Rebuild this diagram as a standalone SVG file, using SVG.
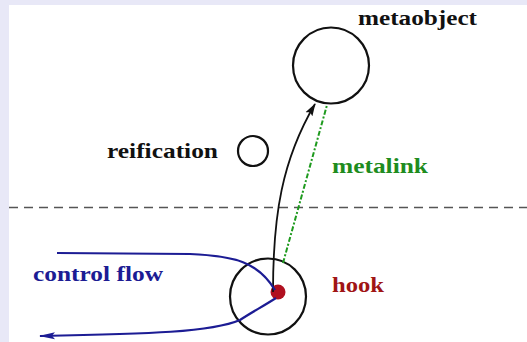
<svg xmlns="http://www.w3.org/2000/svg" width="527" height="342" viewBox="0 0 527 342">
<defs>
<style>
.lbl{font-family:"Liberation Serif","Times New Roman",serif;font-weight:bold;font-size:22px}
.node{fill:none;stroke:#111;stroke-width:2.2}
</style>
<marker id="ahBlack" markerWidth="13" markerHeight="9" refX="12" refY="4.5" orient="auto" markerUnits="userSpaceOnUse">
<path d="M0,0.5 L13,4.5 L0,8.5 L2.5,4.5 Z" fill="#111"/>
</marker>
<marker id="ahBlue" markerWidth="16" markerHeight="8" refX="15" refY="4" orient="auto" markerUnits="userSpaceOnUse">
<path d="M0,0.5 L16,4 L0,7.5 L3,4 Z" fill="#1c1c94"/>
</marker>
</defs>
<rect width="527" height="342" fill="#e8e8f7"/>
<rect x="9" y="5" width="518" height="337" fill="#fff"/>
<line x1="9" y1="207.5" x2="527" y2="207.5" stroke="#555" stroke-width="1.5" stroke-dasharray="9,6"/>

<g id="metaobject">
<circle class="node" cx="331" cy="65.5" r="38"/>
<text class="lbl" x="358" y="25" textLength="119" lengthAdjust="spacingAndGlyphs" fill="#111">metaobject</text>
</g>
<g id="reification">
<circle class="node" cx="253" cy="151" r="15"/>
<text class="lbl" x="107" y="158" textLength="111" lengthAdjust="spacingAndGlyphs" fill="#111">reification</text>
</g>
<g id="hook">
<circle class="node" cx="268" cy="296.5" r="38"/>
<circle cx="278" cy="292" r="7.5" fill="#b01020"/>
<text class="lbl" x="332" y="292" textLength="52" lengthAdjust="spacingAndGlyphs" fill="#a01515">hook</text>
</g>
<g id="labels">
<text class="lbl" x="332" y="173" textLength="96" lengthAdjust="spacingAndGlyphs" fill="#1e8c1e">metalink</text>
<text class="lbl" x="33" y="281" textLength="130" lengthAdjust="spacingAndGlyphs" fill="#1c1c94">control flow</text>
</g>
<g id="connectors" fill="none">
<path d="M273,292 C273,215 282,160 315,104" stroke="#111" stroke-width="1.8" marker-end="url(#ahBlack)"/>
<line x1="283" y1="263" x2="327" y2="105" stroke="#1e9a1e" stroke-width="2" stroke-dasharray="5,2,2,2"/>
<path d="M57,253 L190,254 C235,256 258,262 275,290" stroke="#1c1c94" stroke-width="2.2"/>
<path d="M276,298 C262,307 252,312 240,320 C212,332 150,334 40,336" stroke="#1c1c94" stroke-width="2.2" marker-end="url(#ahBlue)"/>
</g>
</svg>
